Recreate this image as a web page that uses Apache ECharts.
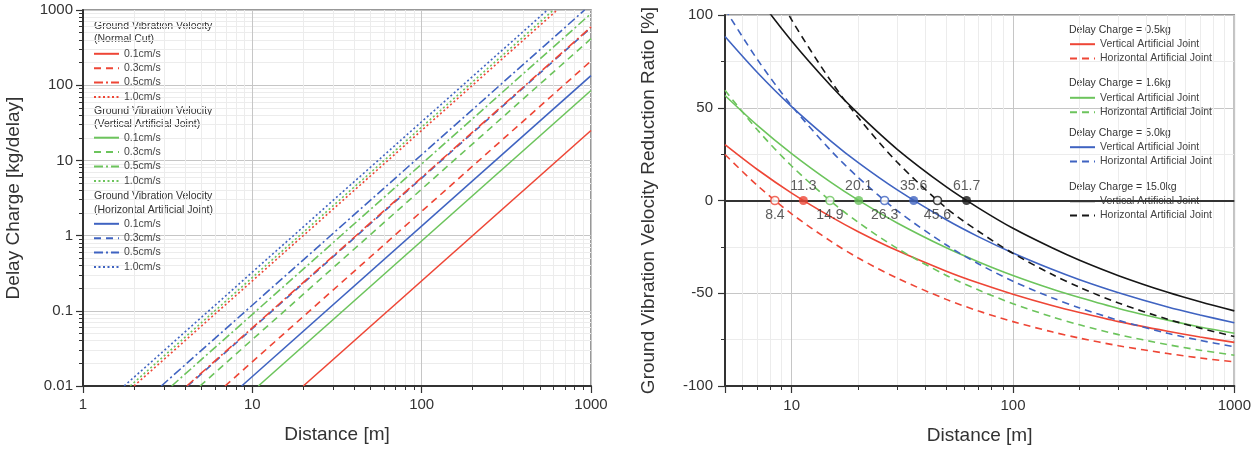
<!DOCTYPE html>
<html>
<head>
<meta charset="utf-8">
<title>Delay charge / reduction ratio</title>
<style>
    html, body { margin: 0; padding: 0; background: #fff; }
    #main { width: 1254px; height: 450px; }
</style>
</head>
<body>
<div id="main"></div>
<script src="https://cdn.jsdelivr.net/npm/echarts@6/dist/echarts.min.js"></script>
<script>
    // ---- left chart: allowable delay charge vs distance (log-log) ----
    var speeds = ['0.1cm/s', '0.3cm/s', '0.5cm/s', '1.0cm/s'];
    // distance where each line enters at 0.01 kg/delay, and the point where it leaves the frame
    var normalStart = [20.0, 6.9, 4.1, 2.0];
    var normalEnd = [[1000, 25], [1000, 210], [1000, 595], [632, 1000]];
    var vertStart = [10.85, 4.91, 3.34, 1.9];
    var vertEnd = [[1000, 85], [1000, 415], [1000, 896], [601, 1000]];
    var horzStart = [8.65, 4.15, 2.9, 1.75];
    var horzEnd = [[1000, 134], [1000, 581], [917, 1000], [553, 1000]];

    // ---- right chart: reduction ratio vs distance ----
    var distances = [5, 7, 10, 15, 20, 30, 50, 70, 100, 150, 200, 300, 500, 700, 1000];
    var charges = ['0.5kg', '1.6kg', '5.0kg', '15.0kg'];
    var redV = [30.1, 16.7, 4.0, -8.7, -16.8, -27.0, -38.1, -44.5, -50.5, -56.6, -60.4, -65.3, -70.5, -73.6, -76.5];
    var redH = [24.8, 8.1, -7.2, -21.9, -31.0, -41.9, -53.3, -59.6, -65.3, -70.8, -74.2, -78.3, -82.5, -84.9, -87.0];
    var greenV = [56.6, 40.5, 25.3, 9.9, 0.2, -12.1, -25.5, -33.1, -40.4, -47.7, -52.3, -58.2, -64.5, -68.2, -71.6];
    var greenH = [59.4, 38.1, 18.6, -0.3, -11.8, -25.8, -40.4, -48.3, -55.6, -62.7, -67.0, -72.3, -77.7, -80.7, -83.4];
    var blueV = [88.4, 69.0, 50.6, 32.2, 20.4, 5.7, -10.4, -19.6, -28.3, -37.1, -42.7, -49.7, -57.4, -61.7, -65.9];
    var blueH = [103.2, 76.0, 51.1, 27.1, 12.4, -5.5, -24.0, -34.2, -43.5, -52.4, -57.9, -64.6, -71.6, -75.4, -78.8];
    var blackV = [135.6, 110.0, 86.0, 62.0, 46.8, 27.6, 7.3, -4.1, -15.0, -25.5, -32.2, -40.5, -49.5, -54.6, -59.5];
    var blackH = [169.0, 131.0, 97.4, 64.6, 44.7, 20.6, -4.1, -16.7, -28.5, -39.8, -46.8, -55.3, -64.0, -68.8, -73.3];
    // zero crossings (labelled points)
    var vertZero = [11.3, 20.1, 35.6, 61.7];
    var horzZero = [8.4, 14.9, 26.3, 45.6];

    var RED = '#ee4636', GREEN = '#6cc45c', BLUE = '#3f63c1', BLACK = '#161616';
    var FONT = '"Liberation Sans", Arial, sans-serif';
    var dashTypes = ['solid', [7, 5], [9, 3, 2, 3], [2, 2.5]];

    var series = [];

    function logLine(name, color, k, start, end) {
        series.push({
            name: name,
            type: 'line',
            xAxisIndex: 0,
            yAxisIndex: 0,
            symbol: 'none',
            lineStyle: { color: color, width: 1.6, type: dashTypes[k] },
            itemStyle: { color: color },
            data: [[start, 0.01], end]
        });
    }
    for (var i = 0; i < 4; i++) {
        logLine('N ' + speeds[i], RED, i, normalStart[i], normalEnd[i]);
        logLine('V ' + speeds[i], GREEN, i, vertStart[i], vertEnd[i]);
        logLine('H ' + speeds[i], BLUE, i, horzStart[i], horzEnd[i]);
    }

    function pairs(vals) {
        var out = [];
        for (var j = 0; j < distances.length; j++) out.push([distances[j], vals[j]]);
        return out;
    }
    var ratioSets = [
        [charges[0], RED, redV, redH],
        [charges[1], GREEN, greenV, greenH],
        [charges[2], BLUE, blueV, blueH],
        [charges[3], BLACK, blackV, blackH]
    ];
    ratioSets.forEach(function (s) {
        series.push({
            name: s[0] + ' V', type: 'line', xAxisIndex: 1, yAxisIndex: 1,
            symbol: 'none', smooth: 0.3,
            lineStyle: { color: s[1], width: 1.6, type: 'solid' },
            itemStyle: { color: s[1] },
            data: pairs(s[2])
        });
        series.push({
            name: s[0] + ' H', type: 'line', xAxisIndex: 1, yAxisIndex: 1,
            symbol: 'none', smooth: 0.3,
            lineStyle: { color: s[1], width: 1.6, type: [7, 5] },
            itemStyle: { color: s[1] },
            data: pairs(s[3])
        });
    });

    var colorsByCharge = [RED, GREEN, BLUE, BLACK];
    series.push({
        name: 'zero-h', type: 'scatter', xAxisIndex: 1, yAxisIndex: 1,
        symbol: 'circle', symbolSize: 8, z: 5,
        data: horzZero.map(function (d, j) {
            return { value: [d, 0], itemStyle: { color: '#fff', borderColor: colorsByCharge[j], borderWidth: 1.6 } };
        }),
        label: {
            show: true, position: 'bottom', distance: 3, fontSize: 14, color: '#333', fontFamily: FONT,
            formatter: function (p) { return p.value[0].toFixed(1); }
        },
        markLine: {
            silent: true, symbol: ['none', 'none'], label: { show: false },
            lineStyle: { color: '#333', width: 2, type: 'solid' },
            data: [{ yAxis: 0 }]
        }
    });
    series.push({
        name: 'zero-v', type: 'scatter', xAxisIndex: 1, yAxisIndex: 1,
        symbol: 'circle', symbolSize: 9, z: 6,
        data: vertZero.map(function (d, j) {
            return { value: [d, 0], itemStyle: { color: colorsByCharge[j] } };
        }),
        label: {
            show: true, position: 'top', distance: 3, fontSize: 14, color: '#333', fontFamily: FONT,
            formatter: function (p) { return p.value[0].toFixed(1); }
        }
    });

    // legends
    var legendText = { fontSize: 10.5, color: '#444', fontFamily: FONT, lineHeight: 10 };
    function legend(names, left, top, fmt) {
        return {
            data: names, orient: 'vertical', left: left, top: top, padding: 0,
            itemWidth: 25, itemHeight: 10, itemGap: 3.4,
            itemStyle: { opacity: 0 },
            textStyle: legendText, formatter: fmt, selectedMode: false
        };
    }
    var speedLabel = function (n) { return n.split(' ')[1]; };
    var jointLabel = function (n) {
        return n.slice(-1) === 'V' ? 'Vertical Artificial Joint' : 'Horizontal Artificial Joint';
    };
    var legends = [
        legend(speeds.map(function (s) { return 'N ' + s; }), 93, 48.3, speedLabel),
        legend(speeds.map(function (s) { return 'V ' + s; }), 93, 132.2, speedLabel),
        legend(speeds.map(function (s) { return 'H ' + s; }), 93, 218.3, speedLabel)
    ];
    var rightTops = [38.7, 92.3, 141.7, 195.7];
    charges.forEach(function (c, j) {
        legends.push(legend([c + ' V', c + ' H'], 1069, rightTops[j], jointLabel));
    });

    function header(text, x, y) {
        return {
            type: 'text', left: x, top: y - 6,
            style: { text: text, fontSize: 10.5, fill: '#333', fontFamily: FONT }
        };
    }
    var headers = [
        header('Ground Vibration Velocity', 94, 26.7), header('(Normal Cut)', 94, 40),
        header('Ground Vibration Velocity', 94, 111.7), header('(Vertical Artificial Joint)', 94, 125),
        header('Ground Vibration Velocity', 94, 197), header('(Horizontal Artificial Joint)', 94, 210.3),
        header('Delay Charge = 0.5kg', 1069, 30.7), header('Delay Charge = 1.6kg', 1069, 84),
        header('Delay Charge = 5.0kg', 1069, 134), header('Delay Charge = 15.0kg', 1069, 187.5)
    ];

    function axisBase(extra) {
        var a = {
            axisLine: { show: true, onZero: false, lineStyle: { color: '#333', width: 2 } },
            axisTick: { show: true, inside: false, length: 7, lineStyle: { color: '#333', width: 1.2 } },
            minorTick: { show: true, length: 4, lineStyle: { color: '#333', width: 1 } },
            splitLine: { show: true, lineStyle: { color: '#c6c6c6', width: 1 } },
            minorSplitLine: { show: true, lineStyle: { color: '#ececec', width: 1 } },
            axisLabel: { fontSize: 15, color: '#333', fontFamily: FONT },
            nameLocation: 'middle',
            nameTextStyle: { fontSize: 19, color: '#333', fontFamily: FONT }
        };
        for (var k in extra) a[k] = extra[k];
        return a;
    }
    var fmtNum = function (v) { return String(+Number(v).toPrecision(6)); };

    var option = {
        animation: false,
        backgroundColor: '#fff',
        textStyle: { fontFamily: FONT },
        grid: [
            { left: 83, top: 10, width: 508, height: 376, show: true, borderColor: '#777', borderWidth: 1.5, backgroundColor: 'transparent' },
            { left: 725, top: 15, width: 511, height: 378, show: true, borderColor: '#777', borderWidth: 1.5, backgroundColor: 'transparent' }
        ],
        xAxis: [
            axisBase({
                type: 'log', logBase: 10, min: 1, max: 1000, gridIndex: 0,
                name: 'Distance [m]', nameGap: 39,
                minorTick: { show: true, splitNumber: 9, length: 4, lineStyle: { color: '#333' } },
                axisLabel: { fontSize: 15, color: '#333', fontFamily: FONT, margin: 11, formatter: fmtNum }
            }),
            axisBase({
                type: 'log', logBase: 10, min: 5, max: 1000, gridIndex: 1,
                name: 'Distance [m]', nameGap: 40,
                minorTick: { show: true, splitNumber: 9, length: 4, lineStyle: { color: '#333' } },
                axisLabel: { fontSize: 15, color: '#333', fontFamily: FONT, margin: 12, showMinLabel: false, formatter: fmtNum }
            })
        ],
        yAxis: [
            axisBase({
                type: 'log', logBase: 10, min: 0.01, max: 1000, gridIndex: 0,
                name: 'Delay Charge [kg/delay]', nameGap: 60,
                minorTick: { show: true, splitNumber: 9, length: 4, lineStyle: { color: '#333' } },
                axisLabel: { fontSize: 15, color: '#333', fontFamily: FONT, margin: 10, formatter: fmtNum }
            }),
            axisBase({
                type: 'value', min: -100, max: 100, interval: 50, gridIndex: 1,
                name: 'Ground Vibration Velocity Reduction Ratio [%]', nameGap: 67,
                minorTick: { show: true, splitNumber: 2, length: 4, lineStyle: { color: '#333' } },
                axisLabel: { fontSize: 15, color: '#333', fontFamily: FONT, margin: 12 }
            })
        ],
        legend: legends,
        graphic: headers,
        series: series
    };

    var chart = echarts.init(document.getElementById('main'));
    chart.setOption(option);
</script>
</body>
</html>
